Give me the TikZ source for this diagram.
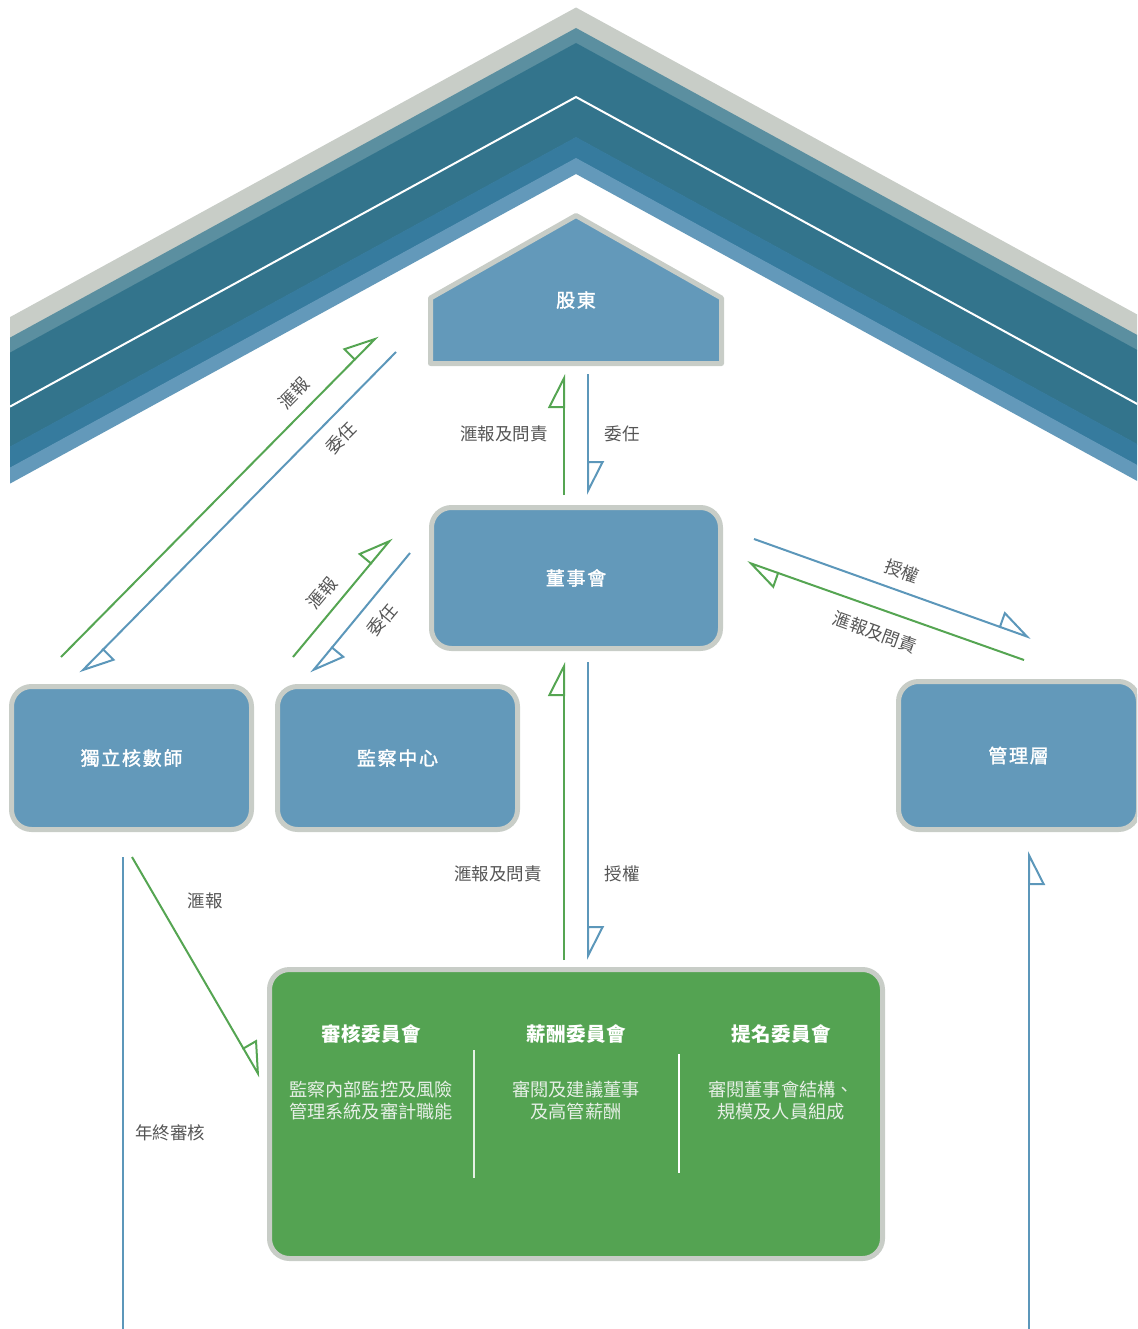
\documentclass[tikz,border=0pt]{standalone}
\usepackage{fontspec}
\newfontfamily\cjk{Noto Sans CJK TC}
\newfontfamily\cjkb[FakeBold=1.6,LetterSpace=9]{Noto Sans CJK TC}
\newfontfamily\cjkh[LetterSpace=3]{Noto Sans CJK TC}
\usetikzlibrary{arrows.meta}
\definecolor{roofgray}{HTML}{C8CDC7}
\definecolor{roofteal}{HTML}{5B8FA0}
\definecolor{roofdark}{HTML}{33748C}
\definecolor{roofmid}{HTML}{367B9E}
\definecolor{rooflight}{HTML}{6399BA}
\definecolor{boxblue}{HTML}{6399BA}
\definecolor{boxedge}{HTML}{C8CDC7}
\definecolor{boxgreen}{HTML}{54A352}
\definecolor{lngreen}{HTML}{55A552}
\definecolor{lnblue}{HTML}{5C97BA}
\definecolor{labgray}{HTML}{555555}
\definecolor{desctext}{HTML}{E6EFE6}
\begin{document}
\begin{tikzpicture}[x=1pt,y=-1pt,
  bluebox/.style={draw=boxedge,line width=5pt,fill=boxblue,rounded corners=20pt,
    minimum width=240pt,minimum height=143pt,inner sep=0pt,
    text=white,font=\cjkb\fontsize{19}{22}\selectfont},
  lab/.style={text=labgray,font=\cjk\fontsize{17.5}{20}\selectfont,inner sep=0pt},
  head/.style={text=white,font=\cjkh\bfseries\fontsize{19.5}{22}\selectfont,inner sep=0pt},
  desc/.style={text=desctext,font=\cjk\fontsize{18.2}{22}\selectfont,inner sep=0pt,align=center},
  gline/.style={draw=lngreen,line width=2pt},
  bline/.style={draw=lnblue,line width=2pt},
  barbL/.style={-{Triangle[open,length=32pt,width=32pt,left]}},
  barbR/.style={-{Triangle[open,length=32pt,width=32pt,right]}}
]
\useasboundingbox (0,0) rectangle (1137,1329);
\clip (0,0) rectangle (1137,1329);
% roof bands
\foreach \c/\a/\b in {roofgray/7.5/28.5,roofteal/28/43.5,roofdark/43/137.5,roofmid/137/158.5,rooflight/158/174}{
  \fill[\c] (10,{\a+309.6}) -- (576,\a) -- (1142,{\a+309.6}) -- (1142,{\b+309.6}) -- (576,\b) -- (10,{\b+309.6}) -- cycle;
}
\draw[white,line width=2pt] (10,406.6) -- (576,97) -- (1142,406.6);
% shareholders pentagon
\draw[draw=boxedge,line width=5pt,fill=boxblue,line join=round]
  (430.5,363.5) -- (430.5,298) -- (576,215.5) -- (721.5,298) -- (721.5,363.5) -- cycle;
\node[text=white,font=\cjkb\fontsize{19}{22}\selectfont] (sh) at (576,300) {股東};
% boxes
\node[bluebox,minimum width=289pt,minimum height=141pt] (bod) at (576,578) {董事會};
\node[bluebox] (aud) at (131.5,758) {獨立核數師};
\node[bluebox] (ia) at (397.5,758) {監察中心};
\node[bluebox,minimum height=148pt] (mgmt) at (1018.5,755.5) {管理層};
\node[draw=boxedge,line width=5pt,fill=boxgreen,rounded corners=20pt,
  minimum width=613pt,minimum height=289pt] (com) at (576,1114) {};
% committee contents
\node[head] (h1) at (371,1034) {審核委員會};
\node[head] (h2) at (576,1034) {薪酬委員會};
\node[head] (h3) at (781,1034) {提名委員會};
\node[desc] (d1) at (371,1101) {監察內部監控及風險\\管理系統及審計職能};
\node[desc] (d2) at (576,1101) {審閱及建議董事\\及高管薪酬};
\node[desc] (d3) at (781,1101) {審閱董事會結構、\\規模及人員組成};
\coordinate (v1t) at (474,1050); \coordinate (v1b) at (474,1178);
\coordinate (v2t) at (679,1054); \coordinate (v2b) at (679,1173);
\draw[white!85!boxgreen,line width=2pt] (v1t) -- (v1b);
\draw[white,line width=2pt] (v2t) -- (v2b);
% connector end points
\coordinate (a1s) at (564,495); \coordinate (a1e) at (564,374);
\coordinate (a2s) at (588,374); \coordinate (a2e) at (588,495);
\coordinate (a3s) at (61,657);  \coordinate (a3e) at (378,336);
\coordinate (a4s) at (396,352); \coordinate (a4e) at (80,673);
\coordinate (a5s) at (293,657); \coordinate (a5e) at (392,538);
\coordinate (a6s) at (410,553); \coordinate (a6e) at (311,673);
\coordinate (a7s) at (754,539); \coordinate (a7e) at (1031,638);
\coordinate (a8s) at (1024,660); \coordinate (a8e) at (747,562);
\coordinate (a9s) at (564,960); \coordinate (a9e) at (564,662);
\coordinate (a10s) at (588,662); \coordinate (a10e) at (588,960);
\coordinate (a11s) at (132,857); \coordinate (a11e) at (260,1077);
\coordinate (a12s) at (123,857); \coordinate (a12e) at (123,1332);
\coordinate (a13s) at (1029,1332); \coordinate (a13e) at (1029,851);
% connectors
\draw[gline,barbL] (a1s) -- (a1e);
\draw[bline,barbL] (a2s) -- (a2e);
\draw[gline,barbL] (a3s) -- (a3e);
\draw[bline,barbL] (a4s) -- (a4e);
\draw[gline,barbL] (a5s) -- (a5e);
\draw[bline,barbL] (a6s) -- (a6e);
\draw[bline,barbL] (a7s) -- (a7e);
\draw[gline,barbL] (a8s) -- (a8e);
\draw[gline,barbL] (a9s) -- (a9e);
\draw[bline,barbL] (a10s) -- (a10e);
\draw[gline,barbL] (a11s) -- (a11e);
\draw[bline] (a12s) -- (a12e);
\draw[bline,barbR] (a13s) -- (a13e);
% labels
\node[lab] (l1) at (504,434) {滙報及問責};
\node[lab] (l2) at (622,434) {委任};
\node[lab,rotate=45] (l3) at (294,393) {滙報};
\node[lab,rotate=45] (l4) at (341,438) {委任};
\node[lab,rotate=50] (l5) at (322,593) {滙報};
\node[lab,rotate=50] (l6) at (382,620) {委任};
\node[lab,rotate=-20] (l7) at (902,571) {授權};
\node[lab,rotate=-20] (l8) at (875,632) {滙報及問責};
\node[lab] (l9) at (498,874) {滙報及問責};
\node[lab] (l10) at (622,874) {授權};
\node[lab] (l11) at (205,901) {滙報};
\node[lab] (l12) at (170,1133) {年終審核};
\end{tikzpicture}
\end{document}
